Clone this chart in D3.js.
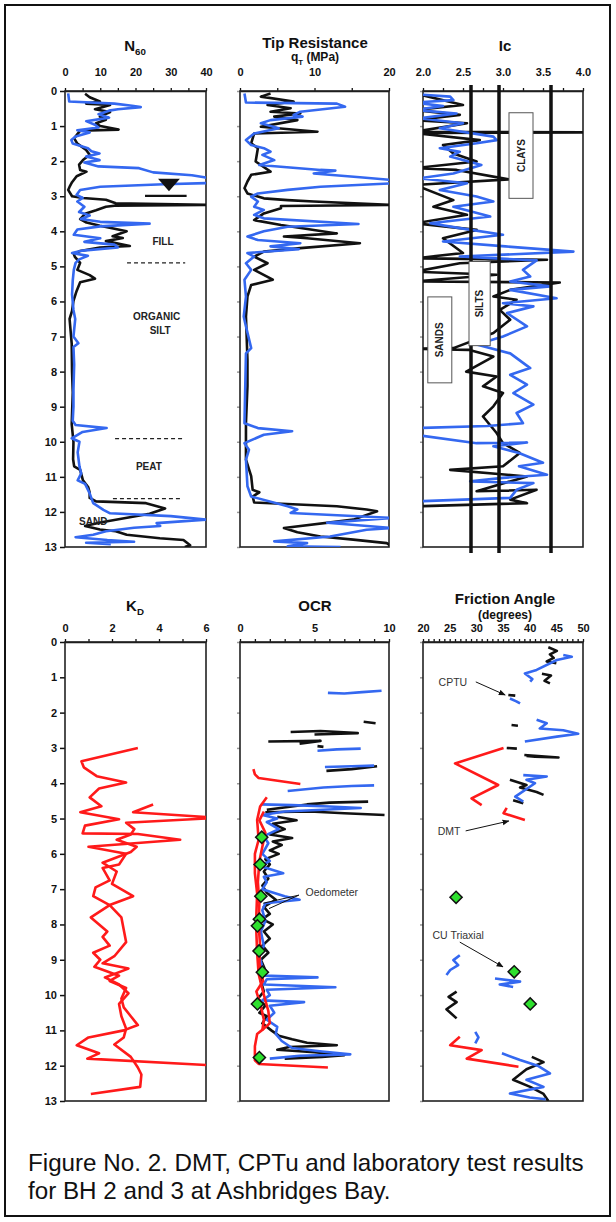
<!DOCTYPE html>
<html>
<head>
<meta charset="utf-8">
<script src="https://cdn.jsdelivr.net/npm/d3@7"></script>
<style>
  body { margin: 0; background: #fff; }
  svg { display: block; font-family: "Liberation Sans", Arial, sans-serif; }
</style>
</head>
<body>
<svg width="616" height="1222"></svg>
<script>
// ---- data: each point is [depth (m), value] ; null = gap in a trace ----
const depthTicks = d3.range(0, 14);

const n60Labels = [0, 10, 20, 30, 40];
const n60Black = [[0.08,5.7],[0.18,7],[0.3,9.9],[0.36,6],[0.4,12.8],[0.52,8.5],[0.6,12.8],[0.73,9.9],[0.82,11.6],[0.92,8.8],[1.0,10],[1.1,15.2],[1.13,4.3],[1.35,2.6],[1.5,3.5],[1.68,6],[1.82,7],[1.97,5.1],[2.1,4],[2.25,4.3],[2.3,6.1],[2.43,3.3],[2.6,2],[2.71,1.4],[2.82,0.9],[3.0,2],[3.05,5.1],[3.1,11.6],[3.2,14.4],[3.25,42],[3.27,14],[3.3,11.6],[3.4,8.8],[3.5,5.7],[3.65,4.3],[3.75,6.1],[3.84,9.9],[4.0,17.5],[4.14,13.5],[4.19,16.4],[4.28,11.6],[4.42,18.4],[4.46,9.9],[4.56,4.3],[4.65,2.5],[4.73,2.8],[4.9,4.3],[5.1,3.5],[5.25,7],[5.35,8.5],[5.45,4.3],[5.7,3.3],[5.98,2.4],[6.27,2.0],[6.5,1.3],[7.2,1.9],[8.0,2.0],[8.6,2.2],[9.5,1.9],[10.0,2.4],[10.5,2.3],[10.7,2.6],[10.8,4.3],[11.1,5.1],[11.3,6.6],[11.45,7],[11.6,7],[11.7,8.8],[11.75,23],[11.9,28.4],[12.05,24],[12.3,10],[12.4,5.7],[12.5,9.9],[12.55,14.4],[12.65,17.5],[12.75,26.9],[12.8,33.6],[12.95,35.5],[13.0,34]];
const n60Blue = [[0.07,0.9],[0.3,1.2],[0.36,14],[0.42,19],[0.46,21.5],[0.52,15],[0.56,12.5],[0.66,9.5],[0.76,12.5],[0.86,6],[0.96,8.5],[1.04,9.5],[1.12,3.5],[1.18,7],[1.3,3],[1.4,1.8],[1.5,2.2],[1.63,6.5],[1.72,7.5],[1.78,9.8],[1.87,6],[1.97,9.8],[2.04,5.5],[2.15,9.5],[2.2,21],[2.32,25],[2.4,36],[2.46,39.5],[2.52,42],[2.62,42],[2.66,28],[2.73,10],[2.82,4.3],[2.96,3.3],[3.05,5],[3.15,3.5],[3.3,5.5],[3.45,4],[3.55,7],[3.65,4.5],[3.73,10],[3.78,24],[3.86,10],[3.95,3.5],[4.1,2.5],[4.2,10],[4.3,5.5],[4.38,14],[4.46,15],[4.55,5],[4.62,2],[4.7,6.5],[4.8,4],[4.9,3],[5.1,2.5],[5.4,2.2],[5.8,2],[6.24,2.4],[6.5,2.9],[7.0,2.4],[7.19,3.8],[7.3,2.4],[7.8,2.6],[8.5,2.4],[9.0,2.4],[9.4,2.2],[9.52,3],[9.61,11.8],[9.72,5],[9.9,1.9],[10.0,4.1],[10.3,3.6],[10.7,4.1],[10.9,4.6],[11.1,3.6],[11.2,5.7],[11.47,7.0],[11.75,8],[11.94,10.9],[12.04,12.8],[12.12,30],[12.22,40],[12.32,26],[12.4,27],[12.45,19.6],[12.55,11.6],[12.65,8],[12.72,3],[12.8,12],[12.85,19.6],[12.88,6],[12.92,13]];

const qtLabels = [0, 10, 20];
const qtBlack = [[0.07,4.1],[0.16,2.8],[0.3,7.2],[0.4,3.7],[0.49,6.8],[0.59,4.1],[0.64,8.1],[0.73,4.6],[0.83,7.7],[1.02,2.8],[1.16,10.4],[1.21,1.9],[1.49,1.5],[1.63,2.4],[2.01,2.1],[2.3,4.1],[2.39,1.5],[2.58,1.0],[2.77,0.6],[2.92,1.0],[3.06,3.2],[3.11,6.4],[3.15,9.9],[3.25,20.5],[3.28,5.5],[3.34,5.5],[3.49,3.2],[3.68,1.9],[3.82,5.5],[4.06,13.0],[4.15,5.9],[4.2,9.0],[4.34,16.1],[4.48,8.1],[4.58,3.2],[4.72,1.9],[4.91,3.7],[5.1,1.9],[5.38,4.4],[5.53,1.5],[5.86,1.0],[6.43,0.8],[7.66,1.0],[8.42,1.0],[9.47,0.8],[10.51,0.8],[10.98,1.5],[11.37,1.7],[11.44,2.6],[11.56,1.7],[11.73,1.9],[11.84,13.0],[11.93,17.0],[11.98,18.4],[12.22,15.2],[12.46,5.9],[12.58,7.7],[12.7,10.8],[12.79,15.2],[12.89,19.7],[13.0,20.5]];
const qtBlue = [[0.07,0.6],[0.33,0.8],[0.36,13],[0.45,14.1],[0.59,8.1],[0.68,7.2],[0.73,8.4],[0.83,4.1],[0.92,2.8],[1.06,5.2],[1.21,1.9],[1.4,0.8],[1.54,1.5],[1.63,3.2],[1.73,4.1],[1.82,3.0],[1.97,4.6],[2.11,2.6],[2.25,10.8],[2.27,12.8],[2.35,9.9],[2.46,16.1],[2.54,20.5],[2.63,20.5],[2.73,10.8],[2.82,6.4],[2.92,2.4],[3.01,1.5],[3.15,2.4],[3.3,1.9],[3.39,3.2],[3.53,1.9],[3.63,3.2],[3.79,15.9],[3.87,6.4],[4.0,3.2],[4.15,1.0],[4.25,2.4],[4.34,8.1],[4.43,4.1],[4.51,7.9],[4.62,1.0],[4.72,1.9],[4.91,0.8],[5.1,1.5],[5.38,0.6],[5.86,0.8],[6.43,0.5],[6.62,0.7],[7.33,1.5],[7.48,0.8],[9.47,0.6],[9.61,2.4],[9.7,7.0],[9.8,3.2],[10.04,0.6],[10.23,1.2],[10.51,0.8],[11.27,1.0],[11.56,1.5],[11.84,6.4],[11.93,7.7],[12.03,6.8],[12.17,20.5],[12.31,11.7],[12.46,20.5],[12.51,17.0],[12.7,12.1],[12.84,4.6],[12.89,9.0],[12.98,6.4],[13.0,13.5]];

const icLabels = [2.0, 2.5, 3.0, 3.5, 4.0];
const icBounds = [2.6, 2.95, 3.6];
const icBlack = [[0.07,1.9],[0.4,2.5],[0.54,1.9],[0.68,2.46],[0.83,1.9],[0.92,2.55],[1.16,1.9],[1.18,4.3],[1.2,1.9],[1.4,2.71],[1.54,2.25],[1.78,2.38],[2.01,2.67],[2.2,1.9],[2.25,2.42],[2.52,3.07],[2.68,1.9],[3.11,2.38],[3.3,2.13],[3.53,2.55],[3.77,1.9],[3.96,2.67],[4.2,2.25],[4.62,2.5],[4.77,1.9],[4.81,3.55],[4.91,2.46],[5.15,1.9],[5.24,2.92],[5.43,1.9],[5.46,3.71],[5.67,3.09],[5.86,2.88],[5.95,3.17],[6.24,2.96],[6.52,3.09],[6.9,2.88],[7.33,2.38],[7.35,1.9],[7.38,2.57],[7.57,2.88],[8.0,2.54],[8.14,2.92],[8.42,2.75],[8.61,3.0],[8.99,2.88],[9.28,2.75],[9.75,2.92],[10.04,3.0],[10.32,3.21],[10.7,3.0],[10.8,2.34],[10.99,3.3],[11.41,2.67],[11.37,3.42],[11.65,3.09],[11.75,3.3],[11.84,1.9]];
const icBlue = [[0.09,1.9],[0.16,2.34],[0.26,2.38],[0.33,1.9],[0.43,2.25],[0.54,1.9],[0.64,2.42],[0.78,1.95],[0.92,2.5],[1.06,2.21],[1.3,2.88],[1.4,2.92],[1.49,2.67],[1.63,2.21],[1.73,2.46],[1.87,2.34],[2.11,2.73],[2.35,2.38],[2.49,1.95],[2.63,2.55],[2.82,2.21],[3.01,2.67],[3.15,2.88],[3.3,2.38],[3.58,2.84],[3.77,2.09],[3.91,2.46],[4.1,3.0],[4.29,2.25],[4.43,3.03],[4.58,3.88],[4.72,2.46],[4.83,3.42],[5.1,3.25],[5.29,3.34],[5.43,3.09],[5.57,3.59],[5.67,3.09],[5.91,3.67],[6.05,3.0],[6.14,3.38],[6.33,3.05],[6.71,3.3],[7.0,3.0],[7.23,2.67],[7.48,3.09],[7.9,3.34],[8.09,3.09],[8.37,3.3],[8.61,3.13],[8.94,3.38],[9.18,3.17],[9.47,3.25],[9.55,2.8],[9.61,1.9],[9.8,1.9],[10.04,2.67],[10.02,3.3],[10.13,2.88],[10.32,3.2],[10.6,3.5],[10.7,3.2],[10.94,3.55],[11.03,3.0],[11.13,2.59],[11.18,3.38],[11.37,3.17],[11.6,3.09],[11.7,1.9]];

const kdLabels = [0, 2, 4, 6];
const kdA = [[3.0,3.1],[3.38,0.7],[3.55,0.8],[3.8,1.35],[3.98,2.6],[4.15,1.45],[4.4,1.05],[4.65,1.55],[4.82,0.65],[5.02,2.3],[5.2,0.85],[5.42,0.75],[5.44,3.1],[5.6,4.9],[5.8,1.0],[6.0,2.6],[6.3,2.3],[6.4,1.6],[6.75,1.9],[6.95,1.3],[7.2,1.2],[7.45,1.9],[7.8,1.1],[8.2,1.8],[8.35,1.6],[8.6,1.9],[8.8,1.2],[9.0,1.5],[9.2,1.25],[9.45,2.3],[9.6,1.9],[9.8,2.6],[10.1,2.4],[10.35,2.5],[10.6,2.8],[10.85,3.1],[11.0,2.5],[11.2,1.0],[11.42,0.5],[11.65,1.45],[11.8,0.95],[12.0,6.5]];
const kdB = [[4.6,3.75],[4.82,2.9],[4.98,6.5],[5.12,2.6],[5.3,2.95],[5.45,2.8],[5.6,2.2],[5.8,3.05],[5.95,2.8],[6.25,1.6],[6.5,2.2],[6.85,2.0],[7.2,2.9],[7.45,1.9],[7.8,2.4],[8.15,2.5],[8.5,2.6],[8.9,2.1],[9.1,1.6],[9.25,2.7],[9.5,1.7],[9.7,2.3],[9.95,2.7],[10.25,2.3],[10.6,2.4],[10.95,2.6],[11.2,2.5],[11.4,2.1],[11.75,2.8],[12.05,3.1],[12.25,3.25],[12.6,3.2],[12.8,1.1]];

const ocrLabels = [0, 5, 10];
const ocrBlack = [[2.26,8.3],[2.3,9.1],null,[2.55,3.4],[2.52,5.4],[2.58,7.9],[2.62,5.0],null,[2.82,1.9],[2.8,5.4],[2.88,4.0],null,[2.95,5.2],[2.97,5.6],null,[3.65,5.8],[3.6,7.5],[3.52,9.2],null,[4.52,8.6],[4.55,6],[4.6,4.5],[4.75,1.8],null,[4.82,1.7],[4.8,4.7],[4.85,7],[4.9,9.7],null,[4.95,2.5],[5.05,3.8],[5.15,2.2],[5.3,3.0],[5.45,2.0],[5.55,3.5],[5.65,2.2],[5.75,2.8],[5.9,2.0],[6.0,2.6],[6.15,1.7],[6.3,2.0],[6.5,1.6],[6.7,1.9],[6.9,1.5],[7.1,1.8],[7.3,2.4],[7.5,1.6],[7.7,2.0],[7.85,1.5],[8.0,2.2],[8.2,1.6],[8.4,2.0],[8.6,1.5],[8.8,1.9],[9.0,1.4],[9.3,1.7],[9.6,1.4],[9.9,1.6],[10.1,1.2],[10.3,1.7],[10.5,1.3],[10.6,1.8],[10.8,1.5],[11.0,2.1],[11.15,2.6],[11.25,3.5],[11.35,4.5],[11.42,6.5],[11.47,3.3],[11.55,2.5],[11.62,5],[11.7,7.0],[11.75,5.5],[11.8,3.0]];
const ocrBlue = [[1.44,5.9],[1.46,7.0],[1.42,8.2],[1.38,9.5],null,[3.08,5.2],[3.04,6.5],[3.02,8.1],null,[3.54,5.7],[3.52,7.5],[3.5,9.0],null,[4.22,3.2],[4.12,5.6],[4.08,7.5],[4.06,9.0],null,[4.6,1.4],[4.62,3.5],[4.66,6.0],[4.7,8.1],[4.8,3.0],[4.9,1.5],[5.0,2.5],[5.1,1.8],[5.3,2.6],[5.5,1.6],[5.7,1.9],[6.0,1.5],[6.2,2.0],[6.35,1.4],[6.55,2.9],[6.65,1.6],[6.8,1.8],[7.0,1.5],[7.2,3.0],[7.3,4.0],[7.4,1.7],[7.6,1.5],[7.9,1.7],[8.2,1.4],[8.6,1.6],[8.9,1.3],[9.2,1.5],[9.45,1.6],[9.5,5.2],[9.55,1.8],[9.7,1.6],[9.78,6.4],[9.85,1.8],[10.0,2.0],[10.15,1.5],[10.2,4.3],[10.3,2.0],[10.5,2.3],[10.7,1.8],[10.9,2.5],[11.1,2.4],[11.3,2.8],[11.5,3.5],[11.6,5.5],[11.68,7.4],[11.72,4],[11.8,2.0]];
const ocrRedA = [[3.6,0.9],[3.75,1.0],[3.85,1.25],[4.02,4.05]];
const ocrRedB = [[4.4,1.8],[4.66,1.35],[5.04,1.15],[5.6,1.25],[6.0,1.0],[6.55,1.0],[7.12,1.15],[7.7,1.1],[8.25,1.1],[8.8,1.15],[9.4,1.25],[9.75,1.45],[10.15,1.7],[10.45,1.9],[10.8,2.0],[10.95,1.6],[11.1,1.15],[11.45,1.0],[11.85,1.0],[11.95,1.25],[12.05,5.9]];
const ocrRedC = [[4.8,1.6],[5.05,1.3],[5.4,1.7],[5.8,1.5],[6.2,1.3],[6.8,1.2],[7.4,1.3],[8.0,1.25],[8.6,1.35],[9.1,1.3],[9.6,1.55],[9.9,1.1],[10.3,1.4],[10.7,1.6],[11.0,1.5]];
const oedoDepth = [5.53, 6.3, 7.2, 7.85, 8.04, 8.75, 9.35, 10.25, 11.77];
const oedoOCR = [1.46, 1.35, 1.4, 1.3, 1.17, 1.28, 1.5, 1.17, 1.3];

const phiLabels = [20, 25, 30, 35, 40, 45, 50];
const phiBlack = [[0.15,43.5],[0.25,45.1],[0.35,43.8],[0.45,44.5],[0.55,43.2],[0.6,45],null,[0.9,42.3],[0.95,44],[1.1,42.8],[1.17,43.8],null,[1.5,36.0],[1.52,37.3],null,[2.35,36.6],[2.37,37.8],null,[3.0,35.7],[3.02,37.6],null,[3.2,39.0],[3.27,45.4],[3.25,41],[3.23,39.4],null,[3.9,36.3],[4.05,39.4],[4.12,38.2],[4.25,41.3],[4.33,42.6],null,[4.48,36.9],[4.57,38.8],null,[9.9,26.3],[10.05,24.8],[10.2,26.3],[10.4,24.4],[10.66,26.3],null,[11.75,40.4],[11.9,42.6],[12.1,39.4],[12.4,36.9],[12.6,40.1],[12.8,42.6],[13.0,43.5]];
const phiBlue = [[0.37,46.3],[0.42,47.9],[0.51,45.1],[0.79,41.3],[0.89,39.1],[1.05,40.5],[1.12,40.1],null,[1.6,36.3],[1.68,37.5],[1.74,38.2],null,[2.2,41.3],[2.3,43.2],[2.45,41.9],[2.5,46.3],[2.6,49.1],[2.68,45.1],[2.82,39.1],null,[3.77,38.8],[3.81,43.2],[3.9,39.4],[4.0,41],[4.38,37.3],[4.52,38.8],null,[8.87,26.9],[9.01,25.7],[9.15,26.6],[9.29,25.1],[9.43,24.4],null,[9.53,33.5],[9.62,38.2],[9.7,34.4],[9.77,36.9],null,[11.04,29.8],[11.2,30.4],[11.37,29.8],null,[11.65,34.8],[11.84,38.2],[12.0,41.5],[12.22,43.8],[12.4,39.4],[12.6,42.6],[12.79,36.3],[12.9,40],[12.95,43]];
const phiRedA = [[3.0,35.1],[3.44,26.0],[4.05,34.1],[4.43,29.1],[4.62,31.0]];
const phiRedB = [[4.7,35.7],[4.85,35.1],[5.04,39.1]];
const phiRedC = [[11.18,26.9],[11.42,25.1],[11.56,31.0],[11.8,28.2],[12.03,37.9]];
const triaxDepth = [7.23, 9.34, 10.25];
const triaxPhi = [26.2, 37.1, 40.1];

// ---- drawing ----
const svg = d3.select("svg");
const BLUE = "#3468f0", RED = "#ff1a1a", GREEN = "#2ee02e";

svg.append("rect").attr("x", 5).attr("y", 5).attr("width", 605).attr("height", 1211)
	.attr("fill", "none").attr("stroke", "#111").attr("stroke-width", 2);

function makePanel(id, x0, x1, y0, y1, domain, labels, minorStep, depthLabels) {
	const x = d3.scaleLinear().domain(domain).range([x0, x1]);
	const y = d3.scaleLinear().domain([0, 13]).range([y0, y1]);
	const g = svg.append("g");
	svg.append("clipPath").attr("id", id).append("rect")
		.attr("x", x0).attr("y", y0).attr("width", x1 - x0).attr("height", y1 - y0);

	// depth axis
	const left = g.append("g").attr("transform", `translate(${x0},0)`)
		.call(d3.axisLeft(y).tickValues(depthTicks).tickSize(depthLabels ? 5 : 3)
			.tickFormat(depthLabels ? d3.format("d") : ""));
	left.select(".domain").remove();
	left.selectAll("line").attr("stroke", depthLabels ? "#111" : "#999").attr("stroke-width", 1.5);
	left.selectAll("text").attr("font-size", 11).attr("font-weight", "bold").attr("fill", "#111")
		.attr("font-family", "Liberation Sans, Arial, sans-serif");

	// value axis on top
	const minor = d3.range(domain[0], domain[1] + minorStep / 2, minorStep);
	const top = g.append("g").attr("transform", `translate(0,${y0})`)
		.call(d3.axisTop(x).tickValues(minor).tickSize(3).tickSizeOuter(0).tickFormat(""));
	top.selectAll("line").attr("stroke", "#111").attr("stroke-width", 1.3);
	top.select(".domain").attr("stroke", "#111").attr("stroke-width", 1.5);
	const lab = g.append("g").attr("transform", `translate(0,${y0})`)
		.call(d3.axisTop(x).tickValues(labels).tickSize(0).tickPadding(15)
			.tickFormat(d => domain[0] === 2 ? d3.format(".1f")(d) : d));
	lab.select(".domain").remove();
	lab.selectAll("text").attr("font-size", 11).attr("font-weight", "bold").attr("fill", "#111")
		.attr("font-family", "Liberation Sans, Arial, sans-serif");

	g.append("rect").attr("x", x0).attr("y", y0).attr("width", x1 - x0).attr("height", y1 - y0)
		.attr("fill", "none").attr("stroke", "#222").attr("stroke-width", 1.6);
	return { x, y, g, lab, clip: `url(#${id})` };
}

function trace(p, data, color, width = 2.6) {
	p.g.append("path").datum(data)
		.attr("clip-path", p.clip)
		.attr("fill", "none").attr("stroke", color).attr("stroke-width", width)
		.attr("stroke-linejoin", "round")
		.attr("d", d3.line().defined(d => d !== null).x(d => p.x(d[1])).y(d => p.y(d[0])));
}

function diamonds(p, depths, values) {
	p.g.selectAll(null).data(depths).enter().append("rect")
		.attr("x", -4.3).attr("y", -4.3).attr("width", 8.6).attr("height", 8.6)
		.attr("transform", (d, i) => `translate(${p.x(values[i])},${p.y(d)}) rotate(45)`)
		.attr("fill", GREEN).attr("stroke", "#111").attr("stroke-width", 1.5);
}

function title(cx, cy, main, sub, size = 15) {
	const t = svg.append("text").attr("x", cx).attr("y", cy).attr("text-anchor", "middle")
		.attr("font-size", size).attr("font-weight", "bold").attr("fill", "#111");
	t.append("tspan").text(main);
	if (sub) t.append("tspan").attr("font-size", size * 0.65).attr("dy", 4).text(sub);
	return t;
}

function note(p, d, v, txt, opts = {}) {
	return p.g.append("text").attr("x", p.x(v)).attr("y", p.y(d))
		.attr("text-anchor", opts.anchor || "middle").attr("dy", "0.35em")
		.attr("font-size", opts.size || 10).attr("font-weight", opts.weight || "bold")
		.attr("fill", opts.fill || "#222").text(txt);
}

// arrow marker
svg.append("defs").append("marker").attr("id", "arr").attr("viewBox", "0 0 10 10")
	.attr("refX", 9).attr("refY", 5).attr("markerWidth", 7).attr("markerHeight", 7)
	.attr("orient", "auto").append("path").attr("d", "M0,1 L10,5 L0,9 z").attr("fill", "#111");

// ---------- top row ----------
const pN = makePanel("cN", 65, 206, 91, 547, [0, 40], n60Labels, 5, true);
const pQ = makePanel("cQ", 240, 389, 91, 547, [0, 20], qtLabels, 5, false);
const pI = makePanel("cI", 423, 583, 91, 547, [2, 4], icLabels, 0.25, false);

title(135, 51, "N", "60");
title(315, 48, "Tip Resistance", null);
title(315, 61, "q", "T", 12).append("tspan").attr("dy", -4).attr("font-size", 12).text(" (MPa)");
title(505, 51, "Ic", null);

// N60 traces and soil layers
trace(pN, n60Black, "#111");
trace(pN, n60Blue, BLUE);
const dash = (p, d, v0, v1) => p.g.append("line").attr("x1", p.x(v0)).attr("x2", p.x(v1))
	.attr("y1", p.y(d)).attr("y2", p.y(d)).attr("stroke", "#222").attr("stroke-width", 1.3).attr("stroke-dasharray", "4,3");
note(pN, 4.3, 27.8, "FILL");
dash(pN, 4.9, 17.6, 34.1);
note(pN, 6.44, 26, "ORGANIC");
note(pN, 6.84, 27, "SILT");
dash(pN, 9.91, 14.2, 33.8);
note(pN, 10.7, 23.8, "PEAT");
dash(pN, 11.62, 13.6, 32.6);
note(pN, 12.28, 8, "SAND");
// water table
pN.g.append("path").attr("fill", "#111")
	.attr("d", `M${pN.x(26.4)},${pN.y(2.5)} L${pN.x(32.6)},${pN.y(2.5)} L${pN.x(29.5)},${pN.y(2.86)} Z`);
pN.g.append("line").attr("x1", pN.x(22.7)).attr("x2", pN.x(34.5)).attr("y1", pN.y(2.99)).attr("y2", pN.y(2.99))
	.attr("stroke", "#111").attr("stroke-width", 2.2);

// qt traces
trace(pQ, qtBlack, "#111");
trace(pQ, qtBlue, BLUE);

// Ic
trace(pI, icBlack, "#111");
trace(pI, icBlue, BLUE);
pI.g.selectAll(".bound").data(icBounds).enter().append("line")
	.attr("x1", d => pI.x(d)).attr("x2", d => pI.x(d)).attr("y1", 85).attr("y2", 553)
	.attr("stroke", "#111").attr("stroke-width", 3.5);
function zoneBox(p, v0, v1, d0, d1, txt) {
	p.g.append("rect").attr("x", p.x(v0)).attr("y", p.y(d0)).attr("width", p.x(v1) - p.x(v0))
		.attr("height", p.y(d1) - p.y(d0)).attr("fill", "#fff").attr("stroke", "#555").attr("stroke-width", 1);
	const cx = (p.x(v0) + p.x(v1)) / 2, cy = (p.y(d0) + p.y(d1)) / 2;
	p.g.append("text").attr("transform", `translate(${cx},${cy}) rotate(-90)`)
		.attr("text-anchor", "middle").attr("dy", "0.35em").attr("font-size", 10).attr("font-weight", "bold")
		.attr("fill", "#222").text(txt);
}
zoneBox(pI, 3.075, 3.375, 0.62, 3.06, "CLAYS");
zoneBox(pI, 2.575, 2.84, 4.86, 7.26, "SILTS");
zoneBox(pI, 2.06, 2.36, 5.87, 8.32, "SANDS");

// ---------- bottom row ----------
const pK = makePanel("cK", 65, 206, 642, 1101, [0, 6], kdLabels, 1, true);
const pO = makePanel("cO", 240, 389, 642, 1101, [0, 10], ocrLabels, 1, false);
const pF = makePanel("cF", 423, 583, 642, 1101, [20, 50], phiLabels, 1, false);
[pK, pO, pF].forEach(p => p.lab.selectAll(".tick text").attr("y", -10));

title(135, 611, "K", "D");
title(315, 611, "OCR", null);
title(505, 604, "Friction Angle", null);
title(505, 619, "(degrees)", null, 12);

trace(pK, kdA, RED);
trace(pK, kdB, RED);

trace(pO, ocrBlack, "#111");
trace(pO, ocrBlue, BLUE);
trace(pO, ocrRedA, RED);
trace(pO, ocrRedB, RED);
trace(pO, ocrRedC, RED);
diamonds(pO, oedoDepth, oedoOCR);
note(pO, 7.1, 4.4, "Oedometer", { anchor: "start", size: 10.5, weight: "normal", fill: "#333" });
[[1.95, 7.55], [1.55, 7.4]].forEach(([v, d]) => pO.g.append("line")
	.attr("x1", pO.x(3.95)).attr("y1", pO.y(7.17)).attr("x2", pO.x(v)).attr("y2", pO.y(d))
	.attr("stroke", "#111").attr("stroke-width", 1));

trace(pF, phiBlack, "#111");
trace(pF, phiBlue, BLUE);
trace(pF, phiRedA, RED);
trace(pF, phiRedB, RED);
trace(pF, phiRedC, RED);
diamonds(pF, triaxDepth, triaxPhi);
function arrowNote(p, d, v, txt, d0, v0, d1, v1) {
	note(p, d, v, txt, { size: 10.5, weight: "normal", fill: "#333" });
	p.g.append("line").attr("x1", p.x(v0)).attr("y1", p.y(d0)).attr("x2", p.x(v1)).attr("y2", p.y(d1))
		.attr("stroke", "#111").attr("stroke-width", 1).attr("marker-end", "url(#arr)");
}
arrowNote(pF, 1.13, 25.6, "CPTU", 1.13, 29.9, 1.5, 35.4);
arrowNote(pF, 5.35, 24.9, "DMT", 5.35, 28.0, 5.07, 36.1);
arrowNote(pF, 8.3, 26.6, "CU Triaxial", 8.5, 26.9, 9.2, 35.0);

// caption
const cap = svg.append("text").attr("x", 28).attr("font-size", 24.2).attr("fill", "#111");
cap.append("tspan").attr("x", 28).attr("y", 1171).text("Figure No. 2. DMT, CPTu and laboratory test results");
cap.append("tspan").attr("x", 28).attr("y", 1199).text("for BH 2 and 3 at Ashbridges Bay.");
</script>
</body>
</html>
